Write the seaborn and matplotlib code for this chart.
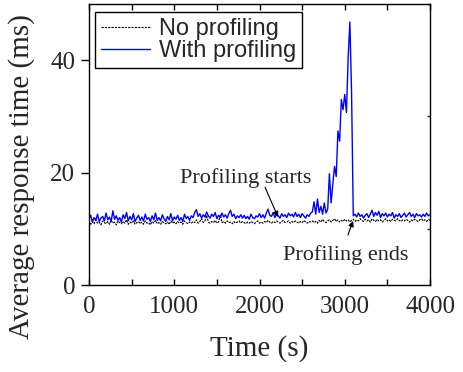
import matplotlib
matplotlib.use("Agg")
import matplotlib.pyplot as plt
import seaborn as sns
import pandas as pd
from matplotlib.ticker import MultipleLocator
from matplotlib.lines import Line2D

time_s = list(range(0, 4001, 20))

no_profiling = [
    11.5, 10.8, 11.3, 10.9, 11.6, 11.0, 11.2, 10.7, 11.4, 11.1, 10.9,
    11.3, 10.8, 11.5, 11.0, 11.2, 10.7, 11.4, 11.1, 10.9, 11.3,
    11.0, 11.6, 10.8, 11.2, 11.0, 11.4, 10.8, 11.1, 11.3, 10.9,
    11.2, 10.8, 11.4, 11.0, 11.1, 10.7, 11.3, 11.0, 11.5, 10.9,
    11.1, 10.8, 11.3, 11.0, 10.9, 11.2, 10.8, 11.4, 11.0, 11.2,
    10.9, 11.3, 11.0, 11.2, 10.8, 11.4, 11.1, 10.9, 11.2, 11.0,
    11.3, 11.1, 11.6, 11.0, 11.3, 11.8, 11.1, 11.4, 12.4, 11.2,
    11.0, 11.3, 11.1, 11.5, 11.0, 11.2, 12.5, 11.1, 11.3, 11.0,
    11.4, 11.1, 11.2, 10.9, 11.3, 11.0, 11.2, 11.4, 11.0, 11.3,
    11.1, 10.9, 11.2, 11.0, 11.3, 11.1, 10.9, 11.2, 11.4, 11.0,
    11.2, 11.0, 11.3, 11.1, 11.5, 11.2, 11.0, 11.3, 11.1, 11.4,
    11.2, 11.0, 11.3, 11.5, 11.1, 11.2, 11.4, 11.0, 11.3, 11.1,
    11.4, 11.2, 11.0, 11.3, 11.1, 11.5, 11.2, 11.0, 11.3, 11.2,
    11.4, 11.1, 11.3, 11.0, 11.5, 11.2, 11.7, 11.3, 11.1, 11.4,
    11.6, 11.2, 11.5, 11.8, 11.3, 11.6, 11.2, 11.5, 11.3, 11.7,
    11.4, 11.6, 11.2, 11.5, 11.7, 11.3, 11.6, 11.4, 11.8, 11.5,
    11.3, 11.7, 11.4, 11.6, 11.2, 11.8, 11.5, 11.3, 11.7, 11.4,
    11.6, 11.2, 11.5, 11.8, 11.4, 11.6, 11.3, 11.7, 11.5, 11.4,
    11.8, 11.5, 11.3, 11.6, 11.4, 11.7, 11.5, 11.2, 11.6, 11.4,
    11.7, 11.5, 11.3, 11.6, 11.8, 11.4, 11.6, 11.3, 11.7, 11.5,
]

with_profiling = [
    11.8, 12.4, 11.2, 12.0, 11.5, 12.6, 11.3, 11.9, 12.2, 11.4, 12.8,
    11.6, 12.1, 11.3, 13.2, 11.7, 12.3, 11.5, 12.0, 11.2, 12.5,
    11.8, 12.9, 11.4, 12.2, 11.6, 12.7, 11.3, 11.9, 12.4, 11.5,
    12.1, 11.4, 12.6, 11.7, 12.0, 11.3, 12.3, 11.6, 12.8, 11.5,
    12.0, 11.4, 12.5, 11.8, 11.3, 12.2, 11.6, 12.7, 11.4, 12.1,
    11.7, 12.4, 11.5, 12.0, 11.3, 12.6, 11.8, 12.2, 11.5, 12.3,
    12.0, 12.9, 13.4, 12.2, 12.7, 11.9, 12.5, 12.1, 13.0, 12.3,
    11.9, 12.6, 12.2, 12.9, 11.8, 12.4, 12.0, 12.8, 12.1, 12.5,
    11.9, 12.7, 13.3, 12.2, 12.6, 11.8, 12.3, 12.0, 12.5, 11.9,
    12.4, 11.8, 12.2, 11.7, 12.6, 12.0, 11.8, 12.3, 12.1, 12.7,
    12.0, 12.5, 11.9, 12.8, 13.5, 12.4, 12.2, 12.9, 12.0, 12.6,
    12.3, 11.9, 12.7, 12.2, 12.5, 12.0, 12.8, 12.3, 12.6, 12.1,
    12.9, 12.2, 12.6, 12.0, 12.7, 12.3, 11.9, 12.5, 12.2, 12.8,
    13.0, 14.8, 12.6, 15.3, 12.9, 14.0, 12.6, 14.6, 12.8, 13.5,
    19.8, 14.6, 18.0, 21.1, 19.3, 27.4, 25.6, 33.0, 31.2, 33.9,
    30.7, 40.5, 46.8, 34.2,
    12.3, 12.6, 12.1, 12.8, 12.2, 12.5, 11.9, 12.4, 12.7, 12.0,
    12.6, 13.3, 12.2, 12.9, 12.4, 13.1, 12.0, 12.7, 12.3, 12.8,
    12.1, 12.6, 12.3, 12.9, 11.9, 12.5, 12.2, 12.7, 12.0, 12.4,
    12.8, 12.1, 12.5, 12.9, 12.2, 12.6, 12.0, 12.7, 12.3, 12.5,
    12.1, 12.6, 12.2, 12.8, 12.3, 12.5,
]

series_names = ["No profiling", "With profiling"]
series_colors = ["black", "#0000FF"]

df = pd.concat([
    pd.DataFrame({"Time": time_s, "Value": no_profiling, "Series": series_names[0]}),
    pd.DataFrame({"Time": time_s, "Value": with_profiling, "Series": series_names[1]}),
])

sns.set_style("ticks")
plt.rcParams["font.family"] = ["Liberation Serif", "DejaVu Serif"]

fig = plt.figure(figsize=(4.63, 3.72), dpi=100)
ax = fig.add_axes([89 / 463, 1 - 285 / 372, 341 / 463, 281 / 372])

sns.lineplot(data=df, x="Time", y="Value", hue="Series", style="Series",
             palette=dict(zip(series_names, series_colors)),
             dashes={series_names[0]: (2, 1), series_names[1]: ""},
             ax=ax, legend=False, estimator=None, sort=False)
for line, lw in zip(ax.get_lines(), [0.8, 1.0]):
    line.set_linewidth(lw)

ax.set_xlim(0, 4000)
ax.set_ylim(0, 50)
ax.xaxis.set_major_locator(MultipleLocator(1000))
ax.xaxis.set_minor_locator(MultipleLocator(500))
ax.yaxis.set_major_locator(MultipleLocator(20))
ax.yaxis.set_minor_locator(MultipleLocator(10))

ax.tick_params(axis="x", which="both", direction="in", top=True, length=4,
               width=1, labelsize=18, pad=8, color="black")
ax.tick_params(axis="y", which="major", direction="out", left=True, right=False,
               length=6, width=1, labelsize=18, pad=4, color="black")
ax.tick_params(axis="y", which="minor", left=False, right=True, direction="in",
               length=2, width=1)
for s in ax.spines.values():
    s.set_visible(True)
    s.set_linewidth(1.0)
    s.set_color("black")

ax.set_xlabel("Time (s)", fontsize=21, labelpad=12)
ax.set_ylabel("Average response time (ms)", fontsize=21)
ax.yaxis.set_label_coords((35 - 89) / 341, (285 - 177) / 281)

handles = [Line2D([], [], color="black", lw=0.8, dashes=(2, 1)),
           Line2D([], [], color="#0000FF", lw=1.0)]
leg = ax.legend(handles, series_names, loc="upper left",
                bbox_to_anchor=(6 / 341, 1 - 8 / 281), borderaxespad=0,
                prop={"family": "Liberation Sans", "size": 17},
                frameon=True, fancybox=False, edgecolor="black",
                handlelength=2.1, handletextpad=0.35, labelspacing=0.0,
                borderpad=0.25)
leg.get_frame().set_linewidth(1.0)
leg.get_frame().set_alpha(1)

ax.text(1842, 19.0, "Profiling starts", fontsize=16, ha="center", va="center")
ax.annotate("", xy=(2217, 12.1), xytext=(2065, 17.4),
            arrowprops=dict(arrowstyle="-|>", color="black", lw=0.8,
                            mutation_scale=8, shrinkA=0, shrinkB=0))
ax.text(3015, 5.3, "Profiling ends", fontsize=16, ha="center", va="center")
ax.annotate("", xy=(3097, 11.4), xytext=(3038, 8.9),
            arrowprops=dict(arrowstyle="-|>", color="black", lw=0.8,
                            mutation_scale=8, shrinkA=0, shrinkB=0))

fig.savefig("out.png", dpi=100)
